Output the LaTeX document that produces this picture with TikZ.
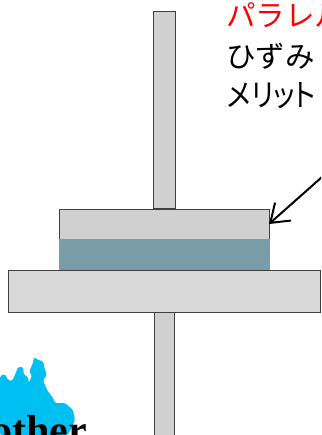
\documentclass[tikz,border=0pt]{standalone}
\usepackage{fontspec}
\usetikzlibrary{arrows.meta}
\newfontfamily\jpfont{Noto Sans CJK JP}
\newfontfamily\jppropfont[RawFeature=+palt]{Noto Sans CJK JP}
\setmainfont{Liberation Serif}
\definecolor{rodgray}{HTML}{D0D0D0}
\definecolor{basegray}{HTML}{D9D9D9}
\definecolor{tealfill}{HTML}{7A9CA9}
\definecolor{edgegray}{HTML}{404040}
\definecolor{blobblue}{HTML}{00BFF3}
\tikzset{
  part/.style={draw=edgegray,line width=1pt,inner sep=0pt,outer sep=0pt,fill=rodgray},
  jptext/.style={anchor=base west,inner sep=0pt,font=\jpfont\fontsize{29.5}{34}\selectfont},
  pointer/.style={line width=2pt,-{Straight Barb[length=17pt,width=24pt,line width=2pt]}}
}
\begin{document}
\begin{tikzpicture}[x=1pt,y=-1pt]
\useasboundingbox (0,0) rectangle (321,435);
\clip (0,0) rectangle (321,435);
% blue shape
\fill[blobblue,rounded corners=1.5pt] (0,376) -- (5,374) -- (8,380) -- (12,381) -- (15,375) -- (18,367) -- (23,367) -- (24,375) -- (28,377) -- (29,383) -- (32,375) -- (29,372) -- (33,363) -- (34,357) -- (38,360) -- (43,361) -- (45,370) -- (47,375) -- (43,380) -- (47,390) -- (53,398) -- (55,403) -- (65,403) -- (73,410) -- (75,420) -- (72,427) -- (68,435) -- (0,435) -- cycle;
\node[anchor=base west,inner sep=0pt,font=\bfseries\fontsize{42}{46}\selectfont] (word) at (-9,444) {other};
% parts
\node[part,minimum width=22pt,minimum height=197pt] (toprod) at (164,110.5) {};
\node[part,minimum width=20pt,minimum height=123pt] (lowrod) at (164,373.5) {};
\node[part,minimum width=210pt,minimum height=30pt] (plate) at (164,224) {};
\node[fill=tealfill,inner sep=0pt,outer sep=0pt,minimum width=211pt,minimum height=31pt] (layer) at (164,254.5) {};
\node[part,fill=basegray,minimum width=312pt,minimum height=42pt] (base) at (164,291) {};
% texts
\node[jptext,text=red] (t1) at (226,27) {パラレル};
\node[jptext] (t2) at (226,68) {ひずみ};
\node[jptext,font=\jppropfont\fontsize{31}{34}\selectfont,xscale=0.88] (t3) at (227,107) {メリット};
% arrow
\coordinate (from) at (322,177);
\draw[pointer] (from) -- (plate.east);
\end{tikzpicture}
\end{document}
